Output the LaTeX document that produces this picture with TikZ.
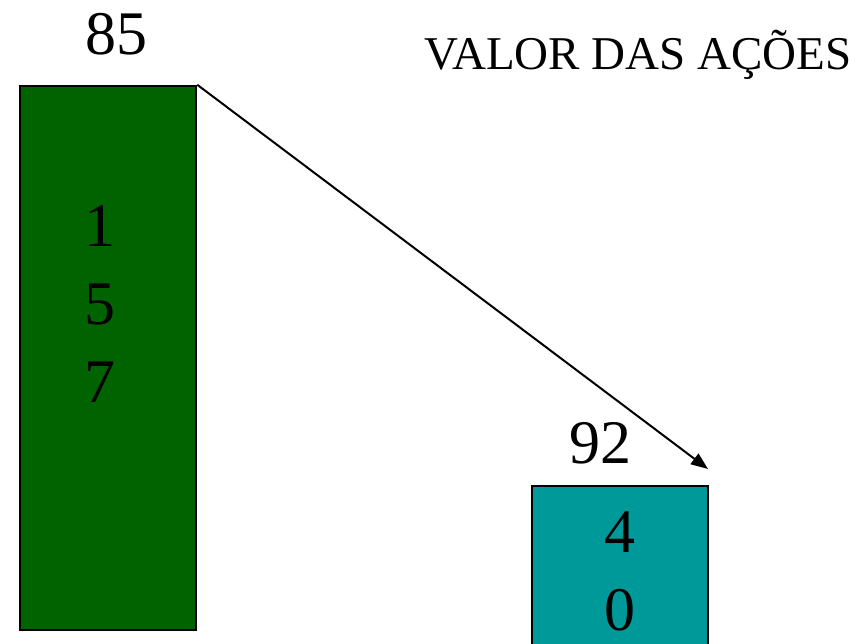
\documentclass[tikz,border=0pt]{standalone}
\usepackage{fontspec}
\setmainfont{Liberation Serif}
\usepackage{tikz}
\usetikzlibrary{positioning,calc,arrows.meta}
\definecolor{AcaoVerde}{RGB}{0,99,0}
\definecolor{AcaoTeal}{RGB}{0,153,153}

\begin{document}
\begin{tikzpicture}[
        x=1pt, y=-1pt,
        % --- STYLE CHUNG ---
        box/.style={
            rectangle,
            draw=black,
            line width=2.5pt,
            inner sep=0pt
        },
        % Digitos e rotulos
        num/.style={
            font=\fontsize{62}{62}\selectfont,
            anchor=base,
            inner sep=0pt
        },
        title/.style={
            font=\fontsize{47}{47}\selectfont,
            anchor=base,
            inner sep=0pt
        },
        seta/.style={
            draw=black,
            line width=2pt,
            -{Triangle[length=17pt,width=13pt]}
        }
    ]
        \useasboundingbox (0,0) rectangle (859,644);

        % --- CAIXAS ---
        \node[box, fill=AcaoVerde, minimum width=176pt, minimum height=544pt] (verde) at (108,358) {};
        \node[box, fill=AcaoTeal, minimum width=176pt, minimum height=190pt] (teal) at (620,581) {};

        % --- ROTULOS ---
        \node[num] (v85) at (116,55) {85};
        \node[num] (v92) at (600,463) {92};
        \node[title] (titulo) at (638,70) {VALOR DAS AÇÕES};

        % Digitos dentro das caixas
        \foreach \d/\y in {1/247, 5/324, 7/402} {
            \node[num] (g\d) at (100,\y) {\d};
        }
        \foreach \d/\y in {4/552, 0/630} {
            \node[num] (t\d) at (620,\y) {\d};
        }

        % --- SETA ---
        \coordinate (ponta) at (708,469);
        \draw[seta] (verde.north east) -- (ponta);

    \end{tikzpicture}
\end{document}
